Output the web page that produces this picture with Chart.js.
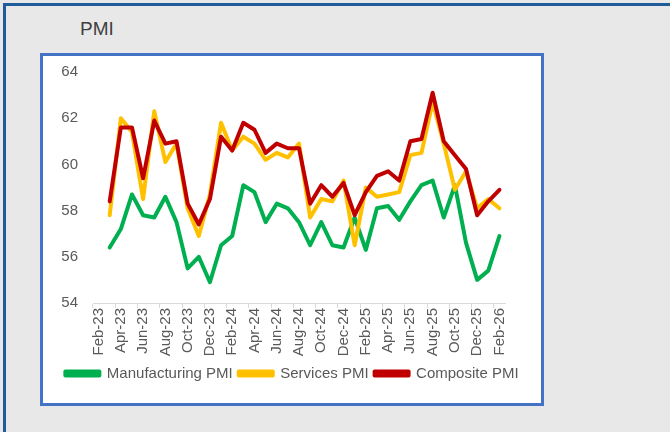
<!DOCTYPE html>
<html>
<head>
<meta charset="utf-8">
<script src="https://cdn.jsdelivr.net/npm/chart.js@4/dist/chart.umd.min.js"></script>
<style>
    html, body {
        margin: 0;
        padding: 0;
        width: 670px;
        height: 432px;
        overflow: hidden;
        background: #e8e8e8;
        font-family: 'Liberation Sans', Arial, sans-serif;
    }
    .frame {
        position: absolute;
        left: 3px;
        top: 3px;
        width: 700px;
        height: 460px;
        border-top: 3px solid #1f5c99;
        border-left: 3px solid #1f5c99;
    }
    .title {
        position: absolute;
        left: 80px;
        top: 19px;
        font-size: 19px;
        line-height: 19px;
        color: #404040;
    }
    .chart-box {
        position: absolute;
        left: 40px;
        top: 53px;
        width: 498px;
        height: 347px;
        border: 3px solid #4472c4;
        background: #ffffff;
    }
</style>
</head>
<body>
<div class="frame"></div>
<div class="title">PMI</div>
<div class="chart-box">
    <canvas id="pmiChart" width="498" height="347"></canvas>
</div>
<script>
const months = [
    'Feb-23', 'Mar-23', 'Apr-23', 'May-23', 'Jun-23', 'Jul-23', 'Aug-23', 'Sep-23', 'Oct-23', 'Nov-23', 'Dec-23',
    'Jan-24', 'Feb-24', 'Mar-24', 'Apr-24', 'May-24', 'Jun-24', 'Jul-24', 'Aug-24', 'Sep-24', 'Oct-24', 'Nov-24', 'Dec-24',
    'Jan-25', 'Feb-25', 'Mar-25', 'Apr-25', 'May-25', 'Jun-25', 'Jul-25', 'Aug-25', 'Sep-25', 'Oct-25', 'Nov-25', 'Dec-25',
    'Jan-26', 'Feb-26'
];

const manufacturing = [
    null, 56.4, 57.2, 58.7, 57.8, 57.7, 58.6, 57.5, 55.5, 56.0, 54.9,
    56.5, 56.9, 59.1, 58.8, 57.5, 58.3, 58.1, 57.5, 56.5, 57.5, 56.5, 56.4,
    57.7, 56.3, 58.1, 58.2, 57.6, 58.4, 59.1, 59.3, 57.7, 59.1, 56.6, 55.0,
    55.4, 56.9
];

const services = [
    null, 57.8, 62.0, 61.4, 58.5, 62.3, 60.1, 60.9, 58.1, 56.9, 58.7,
    61.8, 60.6, 61.2, 60.9, 60.2, 60.5, 60.3, 60.9, 57.7, 58.5, 58.4, 59.3,
    56.5, 59.0, 58.6, 58.7, 58.8, 60.4, 60.5, 62.7, 60.9, 58.9, 59.7, 58.1,
    58.5, 58.1
];

const composite = [
    null, 58.4, 61.6, 61.6, 59.4, 61.9, 60.9, 61.0, 58.3, 57.4, 58.5,
    61.2, 60.6, 61.8, 61.5, 60.5, 60.9, 60.7, 60.7, 58.3, 59.1, 58.6, 59.2,
    57.8, 58.8, 59.5, 59.7, 59.3, 61.0, 61.1, 63.1, 61.0, 60.4, 59.8, 57.8,
    58.4, 58.9
];

const yTicks = { min: 54, max: 64, step: 2 };

const lineStyle = {
    borderWidth: 4,
    pointRadius: 0,
    pointHoverRadius: 0,
    tension: 0,
    fill: false,
    borderJoinStyle: 'round',
    borderCapStyle: 'round'
};

const ctx = document.getElementById('pmiChart').getContext('2d');

// composite drawn on top, legend still in series order
const pmiChart = new Chart(ctx, { //eslint-disable-line
    type: 'line',
    data: {
        labels: months,
        datasets: [
            Object.assign({ label: 'Manufacturing PMI', data: manufacturing, borderColor: '#00b050', backgroundColor: '#00b050', order: 3 }, lineStyle),
            Object.assign({ label: 'Services PMI', data: services, borderColor: '#ffc000', backgroundColor: '#ffc000', order: 2 }, lineStyle),
            Object.assign({ label: 'Composite PMI', data: composite, borderColor: '#c00000', backgroundColor: '#c00000', order: 1 }, lineStyle)
        ]
    },
    options: {
        responsive: false,
        animation: false,
        events: [],
        layout: {
            padding: { top: 13, right: 0, bottom: 12, left: 0 }
        },
        scales: {
            x: {
                offset: true,
                grid: {
                    offset: true,
                    drawOnChartArea: false,
                    tickLength: 5,
                    color: (c) => (c.index % 2 === 0 || c.index === months.length) ? '#d9d9d9' : 'rgba(0,0,0,0)'
                },
                border: { color: '#d9d9d9', width: 1 },
                ticks: {
                    autoSkip: false,
                    maxRotation: 90,
                    minRotation: 90,
                    padding: 0,
                    color: '#595959',
                    font: { family: 'Liberation Sans', size: 15 },
                    callback: function (value, index) {
                        return index % 2 === 0 ? this.getLabelForValue(value) : '';
                    }
                },
                afterFit: (scale) => { scale.height = 57; }
            },
            y: {
                min: yTicks.min,
                max: yTicks.max,
                grid: { display: false },
                border: { display: false },
                ticks: {
                    stepSize: yTicks.step,
                    padding: 7,
                    color: '#595959',
                    font: { family: 'Liberation Sans', size: 15 }
                },
                afterFit: (scale) => { scale.width = 50; }
            },
            // empty axis that keeps a margin on the right of the plot
            yRight: {
                position: 'right',
                grid: { display: false },
                border: { display: false },
                ticks: { display: false },
                afterFit: (scale) => { scale.width = 36; }
            }
        },
        plugins: {
            legend: {
                position: 'bottom',
                labels: {
                    boxWidth: 34,
                    boxHeight: 4,
                    padding: 6,
                    color: '#595959',
                    font: { family: 'Liberation Sans', size: 15 },
                    sort: (a, b) => a.datasetIndex - b.datasetIndex
                }
            },
            tooltip: { enabled: false }
        }
    }
});
</script>
</body>
</html>
